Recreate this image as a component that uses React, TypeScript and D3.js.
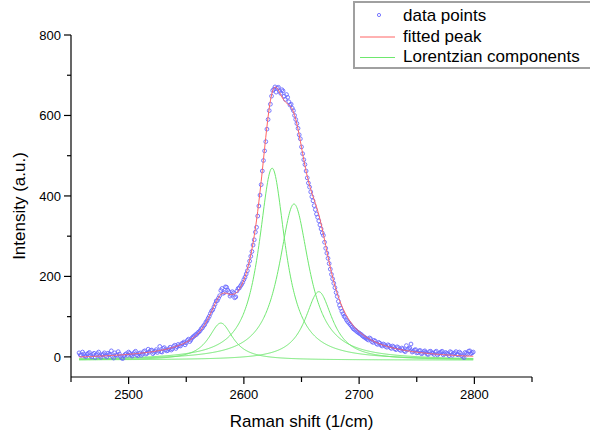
import React from "react";
import * as d3 from "d3";

// Raman spectrum: odd-wavenumber samples (2457, 2459, ... 2799)
const oddStart = 2457;
const intensityOdd = [
  10, 4, 7, 1, 9, 3, 6, -2, 8, 2, 5, 10, 0, 6, 15, -3, 5, 13, 1, -4,
  6, 4, 9, 2, 11, 5, 8, 4, 13, 7, 19, 16, 8, 14, 11, 26, 12, 23, 15, 20,
  17, 26, 21, 31, 27, 34, 30, 41, 38, 47, 52, 56, 62, 70, 77, 86, 96, 108, 117, 131,
  140, 152, 170, 160, 173, 162, 155, 159, 149, 170, 176, 185, 198, 214, 238, 262, 291, 322, 375, 428,
  488, 535, 590, 628, 662, 671, 668, 660, 664, 648, 652, 634, 628, 612, 590, 568, 542, 505, 478, 445,
  422, 398, 376, 355, 338, 318, 302, 270, 245, 218, 194, 172, 150, 128, 113, 101, 92, 85, 78, 70,
  66, 61, 57, 52, 48, 44, 47, 38, 41, 33, 36, 29, 32, 26, 30, 23, 27, 20, 25, 18,
  22, 15, 28, 20, 32, 14, 18, 11, 16, 9, 15, 7, 13, 10, 6, 14, 8, 12, 5, 11,
  7, 13, 4, 10, 6, 12, 3, -2, 9, 14, 8, 12,
];
// even-wavenumber samples (2458, 2460, ... 2798)
const evenStart = 2458;
const intensityEven = [
  5, 12, 2, 7, 11, 0, 9, 4, 12, -1,
  7, 3, 9, 6, 1, 10, 4, 7, -3, 3,
  8, 12, 5, 7, 14, 3, 10, 7, 15, 9,
  12, 17, 11, 18, 15, 13, 21, 18, 16, 24,
  20, 29, 25, 28, 33, 37, 35, 44, 42, 50,
  55, 60, 65, 72, 80, 90, 101, 114, 124, 139,
  146, 165, 158, 174, 166, 151, 162, 147, 164, 171,
  180, 192, 206, 226, 250, 278, 310, 350, 402, 462,
  512, 566, 612, 648, 665, 658, 670, 655, 661, 640,
  645, 626, 618, 600, 580, 552, 522, 490, 462, 432,
  410, 388, 366, 347, 328, 308, 285, 258, 232, 205,
  183, 160, 138, 121, 107, 98, 88, 81, 74, 68,
  63, 59, 55, 50, 46, 42, 45, 36, 39, 31,
  34, 27, 30, 24, 28, 21, 25, 18, 23, 16,
  20, 13, 18, 22, 12, 17, 10, 15, 8, 13,
  11, 6, 14, 9, 12, 5, 10, 14, 7, 9,
  3, 11, 8, 13, 5, 9, 1, 11, 7, 15,
  10,
];
const sampleStep = 2;

// Lorentzian components (fit parameters)
const peakCenters = [2580, 2624.5, 2643.5, 2665];
const peakAmplitudes = [92, 477, 388, 170];
const peakHalfWidths = [13, 14, 16, 14.5];
const baselineOffset = -8;
const fitRange = [2457, 2799];

const xTicks = [2500, 2600, 2700, 2800];
const xMinorTicks = [2450, 2550, 2650, 2750, 2850];
const yTicks = [0, 200, 400, 600, 800];
const yMinorTicks = [100, 300, 500, 700];
const legendLabels = ["data points", "fitted peak", "Lorentzian components"];

const FONT = "'Liberation Sans', Arial, sans-serif";
const BLUE = "#6a6aff";
const RED = "#ff6464";
const GREEN = "#6ee86e";

function lorentz(x: number, i: number) {
  const d = (x - peakCenters[i]) / peakHalfWidths[i];
  return peakAmplitudes[i] / (1 + d * d);
}

export default function App() {
  const W = 590;
  const H = 435;
  const x = d3.scaleLinear().domain([2450, 2850]).range([71, 532]);
  const y = d3.scaleLinear().domain([-50, 800]).range([377, 35]);

  const grid = d3.range(fitRange[0], fitRange[1] + 0.01, 0.5);
  const line = d3
    .line<[number, number]>()
    .x((d) => x(d[0]))
    .y((d) => y(d[1]));

  const fitted = grid.map((g) => [
    g,
    baselineOffset + peakCenters.reduce((s, _, i) => s + lorentz(g, i), 0),
  ]) as [number, number][];
  const comps = peakCenters.map((_, i) =>
    grid.map((g) => [g, baselineOffset + lorentz(g, i)]) as [number, number][]
  );
  const points = [
    ...intensityOdd.map((v, i) => [oddStart + i * sampleStep, v]),
    ...intensityEven.map((v, i) => [evenStart + i * sampleStep, v]),
  ];

  const axisX = 71;
  const axisY = 377;

  return (
    <svg
      width={W}
      height={H}
      style={{ position: "absolute", left: 0, top: 0, background: "#fff" }}
    >
      <rect x={0} y={0} width={W} height={H} fill="#fff" />
      {comps.map((c, i) => (
        <path key={i} d={line(c) || ""} fill="none" stroke={GREEN} strokeWidth={1} />
      ))}
      {points.map((p, i) => (
        <circle
          key={i}
          cx={x(p[0])}
          cy={y(p[1])}
          r={1.9}
          fill="none"
          stroke={BLUE}
          strokeWidth={0.9}
        />
      ))}
      <path d={line(fitted) || ""} fill="none" stroke={RED} strokeWidth={1} />

      <line x1={axisX} x2={axisX} y1={y(800)} y2={axisY} stroke="#000" strokeWidth={1.2} />
      <line x1={axisX} x2={x(2850)} y1={axisY} y2={axisY} stroke="#000" strokeWidth={1.2} />
      {yTicks.map((t) => (
        <g key={"yt" + t}>
          <line x1={axisX - 7} x2={axisX} y1={y(t)} y2={y(t)} stroke="#000" strokeWidth={1.2} />
          <text
            x={axisX - 10}
            y={y(t)}
            dy="0.36em"
            textAnchor="end"
            fontFamily={FONT}
            fontSize={13}
          >
            {t}
          </text>
        </g>
      ))}
      {yMinorTicks.map((t) => (
        <line key={"ym" + t} x1={axisX - 4} x2={axisX} y1={y(t)} y2={y(t)} stroke="#000" strokeWidth={1.2} />
      ))}
      {xTicks.map((t) => (
        <g key={"xt" + t}>
          <line x1={x(t)} x2={x(t)} y1={axisY} y2={axisY + 7} stroke="#000" strokeWidth={1.2} />
          <text x={x(t)} y={399} textAnchor="middle" fontFamily={FONT} fontSize={13}>
            {t}
          </text>
        </g>
      ))}
      {xMinorTicks.map((t) => (
        <line key={"xm" + t} x1={x(t)} x2={x(t)} y1={axisY} y2={axisY + 5} stroke="#000" strokeWidth={1.2} />
      ))}
      <text x={301.5} y={427} textAnchor="middle" fontFamily={FONT} fontSize={17}>
        Raman shift (1/cm)
      </text>
      <text
        transform="translate(25,206) rotate(-90)"
        textAnchor="middle"
        fontFamily={FONT}
        fontSize={17}
      >
        Intensity (a.u.)
      </text>

      <rect x={354} y={2} width={250} height={66} fill="#fff" stroke="#a0a0a0" strokeWidth={2} />
      <circle cx={379} cy={15} r={1.6} fill="none" stroke={BLUE} strokeWidth={0.9} />
      <line x1={360} x2={395} y1={37} y2={37} stroke={RED} strokeWidth={1} />
      <line x1={360} x2={395} y1={57.5} y2={57.5} stroke={GREEN} strokeWidth={1} />
      {legendLabels.map((l, i) => (
        <text key={l} x={403} y={21 + i * 20.7} fontFamily={FONT} fontSize={17}>
          {l}
        </text>
      ))}
    </svg>
  );
}
